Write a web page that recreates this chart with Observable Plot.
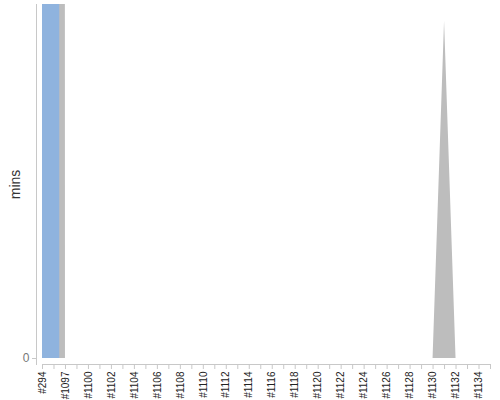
<!DOCTYPE html>
<html>
<head>
<meta charset="utf-8">
<script src="https://cdn.jsdelivr.net/npm/d3@7"></script>
<script src="https://cdn.jsdelivr.net/npm/@observablehq/plot@0.6"></script>
<style>
  html, body { margin: 0; padding: 0; background: #fff; }
</style>
</head>
<body>
<div id="chart"></div>
<script>
// Categories (build ids)
const categories = ["#294", "#1096", "#1097", "#1099",
  "#1100", "#1101", "#1102", "#1103", "#1104", "#1105", "#1106", "#1107",
  "#1108", "#1109", "#1110", "#1111", "#1112", "#1113", "#1114", "#1115",
  "#1116", "#1117", "#1118", "#1119", "#1120", "#1121", "#1122", "#1123",
  "#1124", "#1125", "#1126", "#1127", "#1128", "#1129", "#1130", "#1131",
  "#1132", "#1133", "#1134", "#1135"];

// Tick labels shown (every other category)
const tickLabels = ["#294", "#1097", "#1100", "#1102", "#1104", "#1106", "#1108",
  "#1110", "#1112", "#1114", "#1116", "#1118", "#1120", "#1122", "#1124",
  "#1126", "#1128", "#1130", "#1132", "#1134"];

// Series values (mins) — first two builds run far off the top of the chart
const blueMins = [5000, 5000, 0, 0, 0, 0, 0, 0, 0, 0, 0, 0, 0, 0, 0, 0, 0, 0, 0, 0,
  0, 0, 0, 0, 0, 0, 0, 0, 0, 0, 0, 0, 0, 0, 0, 0, 0, 0, 0, 0];
const grayMins = [5000, 5000, 0, 0, 0, 0, 0, 0, 0, 0, 0, 0, 0, 0, 0, 0, 0, 0, 0, 0,
  0, 0, 0, 0, 0, 0, 0, 0, 0, 0, 0, 0, 0, 0, 0, 40, 0, 0, 0, 0];

const yTicks = [0];

const rows = categories.map((c, i) => ({cat: c, blue: blueMins[i], gray: grayMins[i]}));

const M = {marginTop: 4, marginLeft: 36, marginRight: 10, marginBottom: 36};

const chart = Plot.plot({
  width: 500,
  height: 400,
  ...M,
  style: {fontFamily: "'Liberation Sans', Arial, sans-serif", background: "white"},
  x: {type: "point", domain: categories, padding: 0, round: false, insetLeft: 6},
  y: {domain: [0, 42], insetBottom: 6},
  marks: [
    Plot.areaY(rows, {x: "cat", y: "gray", fill: "#bdbdbd", clip: true}),
    Plot.areaY(rows, {x: "cat", y: "blue", fill: "#8fb3de", curve: "step", clip: true}),
    Plot.frame({anchor: "left", stroke: "#c8c8c8"}),
    Plot.frame({anchor: "bottom", stroke: "#c8c8c8", insetLeft: 6}),
    Plot.axisY({...M, ticks: yTicks, tickSize: 4, tickPadding: 3, label: null,
      fontSize: 12, fill: "#777", stroke: "#c8c8c8"}),
    Plot.axisY({...M, ticks: [], label: "mins", labelAnchor: "center", labelArrow: false,
      labelOffset: 26, fontSize: 14, fill: "#333"}),
    Plot.axisX({...M, tickRotate: -90, tickSize: 5, tickPadding: 2, label: null,
      tickFormat: d => tickLabels.includes(d) ? d : "",
      fontSize: 10, fill: "#222", stroke: "#c8c8c8"})
  ]
});
document.getElementById("chart").appendChild(chart);
</script>
</body>
</html>
